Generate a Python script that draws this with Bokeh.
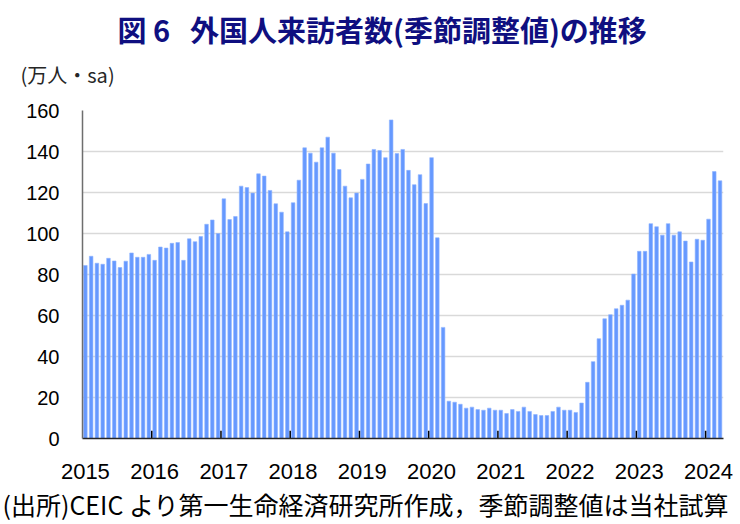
from bokeh.plotting import figure
from bokeh.models import FixedTicker, Title, Range1d, ColumnDataSource
from bokeh.embed import file_html
from bokeh.resources import INLINE

# ---- data (万人, seasonally adjusted), monthly Jan 2015 - Mar 2024 ----
years = [2015, 2016, 2017, 2018, 2019, 2020, 2021, 2022, 2023, 2024]
v2015 = [84.4, 88.9, 85.5, 85.0, 87.9, 86.6, 83.4, 86.5, 90.5, 88.4, 88.4, 89.8]
v2016 = [86.9, 93.4, 92.9, 95.2, 95.6, 86.9, 97.4, 96.0, 98.5, 104.5, 106.6, 100.0]
v2017 = [116.9, 106.8, 108.3, 123.1, 122.4, 119.7, 129.1, 128.0, 121.0, 114.5, 110.4, 100.8]
v2018 = [115.0, 126.0, 141.8, 139.2, 134.8, 141.8, 147.0, 139.2, 131.2, 123.1, 117.4, 119.7]
v2019 = [126.4, 133.9, 141.0, 140.5, 137.0, 155.4, 139.0, 141.0, 130.8, 123.8, 128.7, 114.6]
v2020 = [137.0, 97.9, 54.2, 18.2, 17.7, 16.7, 14.8, 15.3, 14.1, 13.8, 14.8, 13.8]
v2021 = [13.8, 12.2, 14.1, 13.2, 15.3, 13.2, 11.7, 11.2, 11.2, 13.2, 15.3, 13.8]
v2022 = [13.8, 12.7, 17.3, 27.4, 37.5, 48.7, 58.4, 60.4, 63.3, 65.0, 67.5, 80.2]
v2023 = [91.3, 91.3, 104.8, 103.3, 99.2, 104.8, 99.2, 100.8, 96.3, 86.1, 97.2, 96.7]
v2024 = [107.0, 130.2, 125.7]
y_ticks = [0, 20, 40, 60, 80, 100, 120, 140, 160]

title_text = "図 6\u00a0\u00a0\u00a0外国人来訪者数(季節調整値)の推移"
unit_text = "(万人・sa)"
source_text = "(出所)CEIC より第一生命経済研究所作成，季節調整値は当社試算"

values = v2015 + v2016 + v2017 + v2018 + v2019 + v2020 + v2021 + v2022 + v2023 + v2024
idx = list(range(len(values)))
src = ColumnDataSource(dict(x=idx, v=values))

JP = "Noto Sans CJK JP"
NUM = "Liberation Sans"

p = figure(width=740, height=524, output_backend="svg", toolbar_location=None,
           x_range=Range1d(-0.5, len(values) - 0.4), y_range=Range1d(0, 160),
           min_border_left=82, min_border_right=17, min_border_top=110,
           min_border_bottom=86)
p.outline_line_color = None
p.background_fill_color = "white"
p.border_fill_color = "white"

# main title (outermost in the top panel)
p.title.text = title_text
p.title.text_font = JP
p.title.text_font_style = "bold"
p.title.text_font_size = "29px"
p.title.text_color = "#0f0f80"
p.title.align = "left"
p.title.offset = 35
try:
    p.title.standoff = -27
except Exception:
    p.title.standoff = 0

# unit label, nearest to the frame
p.add_layout(Title(text=unit_text, text_font=JP, text_font_style="normal",
                   text_font_size="20px", text_color="#262626",
                   align="left", offset=-62, standoff=43), "above")

# source note below the axis
p.add_layout(Title(text=source_text, text_font=JP, text_font_style="normal",
                   text_font_size="25px", text_color="#000000",
                   align="left", offset=-80, standoff=4), "below")

p.vbar(x="x", top="v", bottom=0, width=0.62, source=src,
       fill_color="#6699ff", line_color="#8fb3ff", line_width=0.6)

# year boundary tick marks (inside, pointing up)
bnd = [12 * i - 0.5 for i in range(1, len(years))]
p.segment(x0=bnd, y0=[0] * len(bnd), x1=bnd, y1=[3.8] * len(bnd),
          line_color="#000000", line_width=1.5)

# axes
p.xaxis.ticker = FixedTicker(ticks=[12 * i for i in range(len(years))])
p.xaxis.major_label_overrides = {12 * i: str(y) for i, y in enumerate(years)}
p.xaxis.major_tick_line_color = None
p.xaxis.major_tick_in = 0
p.xaxis.major_tick_out = 0
p.xaxis.minor_tick_line_color = None
p.xaxis.axis_line_color = "#262626"
p.xaxis.axis_line_width = 1.5
p.xaxis.major_label_standoff = 25
p.xaxis.major_label_text_font = NUM
p.xaxis.major_label_text_font_size = "22px"
p.xaxis.major_label_text_color = "#000000"

p.yaxis.ticker = FixedTicker(ticks=y_ticks)
p.yaxis.major_tick_line_color = None
p.yaxis.major_tick_in = 0
p.yaxis.major_tick_out = 0
p.yaxis.minor_tick_line_color = None
p.yaxis.axis_line_color = "#6e6e6e"
p.yaxis.axis_line_width = 1.5
p.yaxis.major_label_standoff = 23
p.yaxis.major_label_text_font = NUM
p.yaxis.major_label_text_font_size = "20px"
p.yaxis.major_label_text_color = "#000000"

p.xgrid.visible = False
p.ygrid.ticker = FixedTicker(ticks=y_ticks[1:])
p.ygrid.grid_line_color = "#d9d9d9"
p.ygrid.grid_line_width = 1.5

open("out.html", "w").write(file_html(p, INLINE))
